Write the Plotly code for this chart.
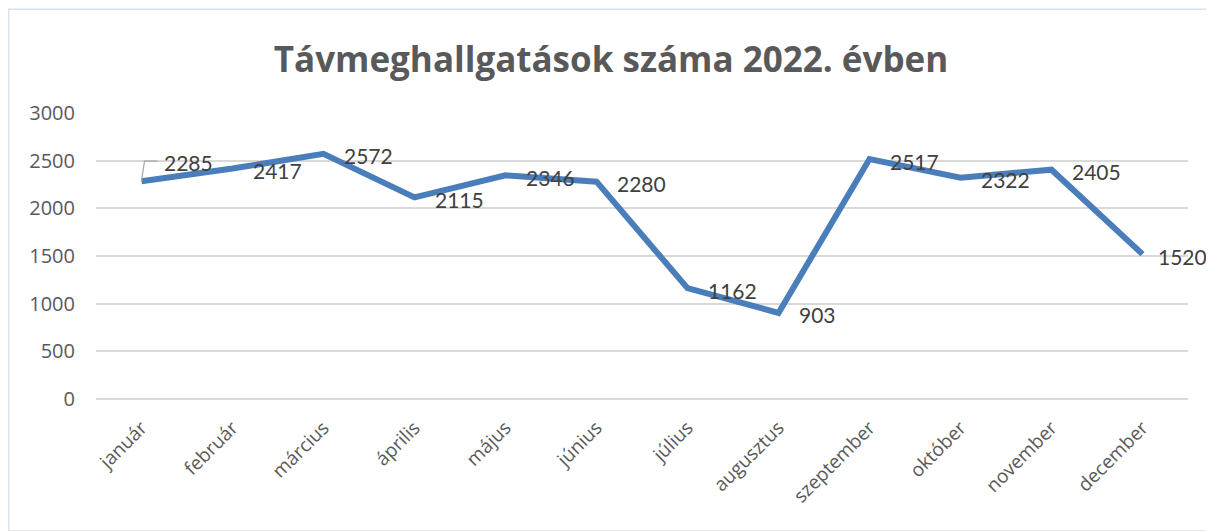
import plotly.graph_objects as go

months = ["január", "február", "március", "április", "május", "június",
          "július", "augusztus", "szeptember", "október", "november", "december"]
values = [2285, 2417, 2572, 2115, 2346, 2280, 1162, 903, 2517, 2322, 2405, 1520]
y_ticks = [0, 500, 1000, 1500, 2000, 2500, 3000]
title_text = "Távmeghallgatások száma 2022. évben"

LINE_COLOR = "#4A7EBB"
W, H = 1206, 523
L, R, T, B = 88, 26, 105, 132
PW, PH = W - L - R, H - T - B

fig = go.Figure()
fig.add_trace(go.Scatter(
    x=months, y=values, mode="lines",
    line=dict(color=LINE_COLOR, width=6),
    hoverinfo="x+y", showlegend=False,
))

# data labels
for i, (m, v) in enumerate(zip(months, values)):
    if i == 0:
        xs, ys = 20, 19
    elif i == len(months) - 1:
        xs, ys = 13, -2
    else:
        xs, ys = 18, -2
    fig.add_annotation(x=m, y=v, text=str(v), showarrow=False,
                       xanchor="left", yanchor="middle", xshift=xs, yshift=ys,
                       font=dict(family="Lato", size=21, color="#404040"))

# leader line for first label
fig.add_shape(type="path", xref="x", yref="y", xsizemode="pixel", ysizemode="pixel",
              xanchor=months[0], yanchor=values[0],
              path="M 0 0 L 3 20 L 16 20",
              line=dict(color="#A6A6A6", width=1.2))

# outer chart border
fig.add_shape(type="rect", xref="paper", yref="paper",
              x0=(0.7 - L) / PW, x1=(W - L) / PW,
              y0=-(B) / PH, y1=(PH + T - 1.2) / PH,
              line=dict(color="#D6E3EF", width=1.4), fillcolor="rgba(0,0,0,0)",
              layer="below")

fig.update_layout(
    width=W, height=H,
    margin=dict(l=L, r=R, t=T, b=B),
    paper_bgcolor="white", plot_bgcolor="white",
    title=dict(text=f"<b>{title_text}</b>", x=0.5, xanchor="center",
               y=1 - 52 / H, yanchor="middle",
               font=dict(family="Open Sans", size=35, color="#595959")),
    xaxis=dict(
        type="category", showgrid=False, zeroline=False, showline=False,
        tickangle=-45, ticks="", ticklabelstandoff=13,
        tickfont=dict(family="Open Sans", size=19, color="#595959"),
        range=[-0.5, 11.5],
    ),
    yaxis=dict(
        range=[0, 3000], tickvals=y_ticks, showgrid=True, gridcolor="#D9D9D9",
        gridwidth=1.5, zeroline=True, zerolinecolor="#D9D9D9", zerolinewidth=1.5,
        showline=False, ticks="", ticklabelstandoff=20,
        tickfont=dict(family="Open Sans", size=20, color="#595959"),
    ),
)

fig.write_html("out.html")
